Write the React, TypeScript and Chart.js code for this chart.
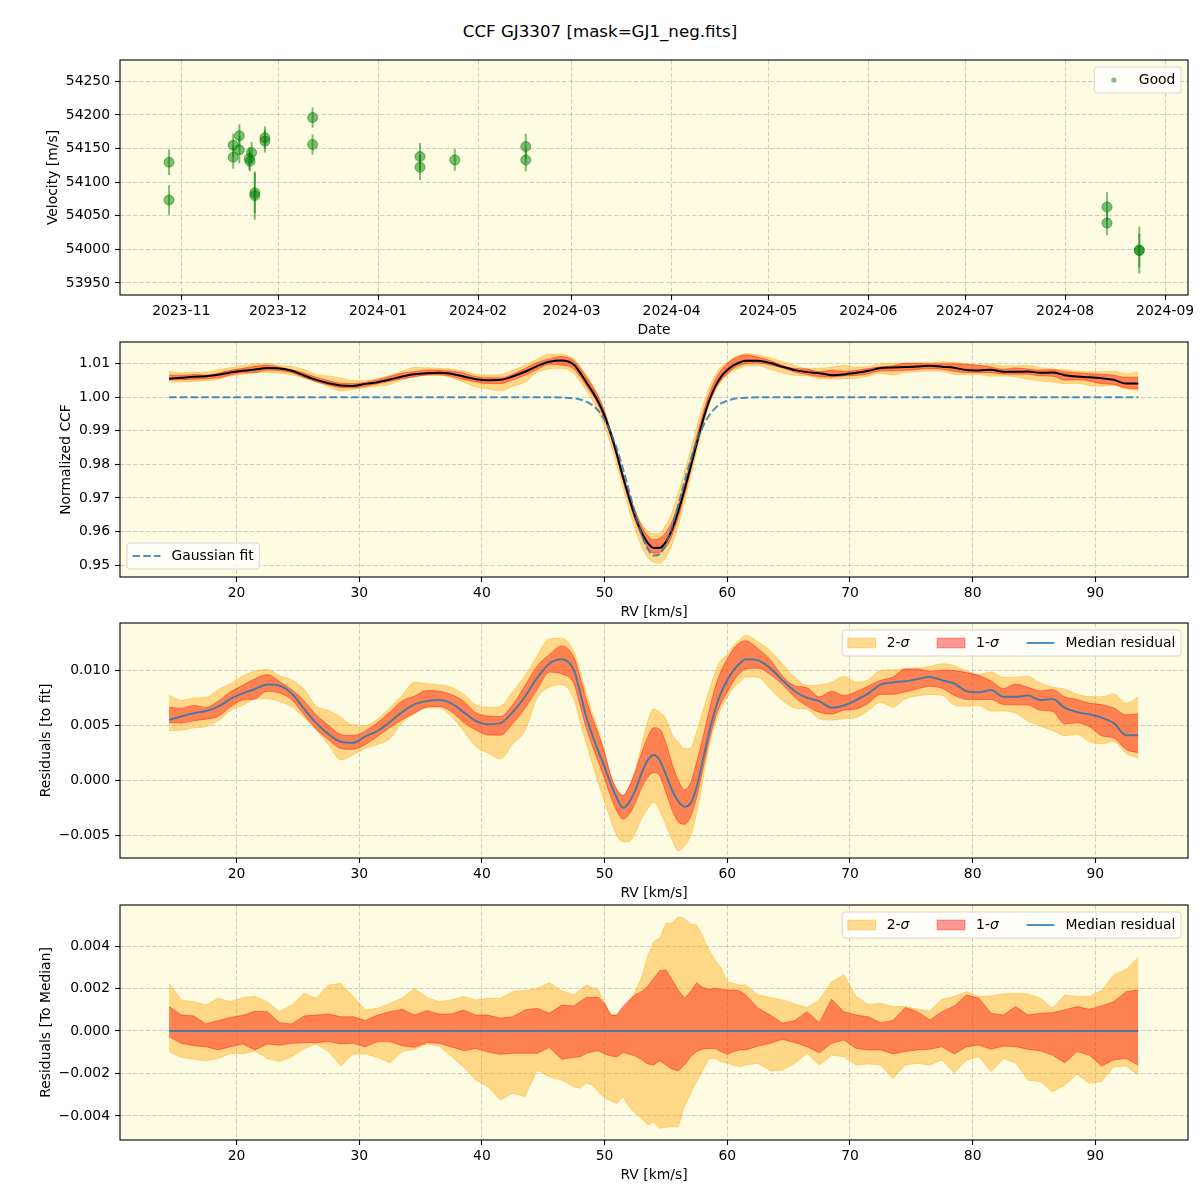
import React, { useEffect, useRef } from 'react';
import { Chart, registerables } from 'chart.js';

Chart.register(...registerables);

const FONT_FAMILY = "'DejaVu Sans', 'Liberation Sans', sans-serif";
const FS = 13.9;
const AX_BG = 'rgb(253,251,226)';
const GRID_COLOR = 'rgba(176,176,176,0.6)';
const C2 = 'rgba(255,165,0,0.4)';
const C1 = 'rgba(255,0,0,0.4)';
const BLUE = 'rgba(31,119,180,0.8)';
const GREEN = 'rgba(0,128,0,0.5)';

// ---------- Panel 1: RV time series ----------
const OBS_DATES = [
  '2023-10-28T05:00', '2023-10-28T05:00',
  '2023-11-17T02:00', '2023-11-17T02:00',
  '2023-11-19T00:00', '2023-11-19T00:00',
  '2023-11-22T02:00', '2023-11-22T07:00', '2023-11-22T19:00',
  '2023-11-23T19:00', '2023-11-23T19:00',
  '2023-11-26T22:00', '2023-11-26T22:00',
  '2023-12-11T17:00', '2023-12-11T17:00',
  '2024-01-14T00:00', '2024-01-14T00:00',
  '2024-01-24T19:00',
  '2024-02-15T19:00', '2024-02-15T19:00',
  '2024-08-14T00:00', '2024-08-14T00:00',
  '2024-08-24T00:00', '2024-08-24T00:00',
];
const OBS_RV = [
  54129.5, 54073.4,
  54155, 54137,
  54169, 54148,
  54135, 54131, 54144,
  54084, 54080,
  54166, 54161,
  54196, 54156,
  54138, 54122,
  54133,
  54153, 54133,
  54063, 54039,
  53999, 53998,
];
const OBS_ERR = [
  19, 22,
  17, 17,
  17, 20,
  17, 15, 16,
  30, 36,
  17, 17,
  15, 15,
  20, 19,
  16,
  19, 17,
  22, 18,
  35, 25,
];
const DATE_TICK_LABELS = ['2023-11', '2023-12', '2024-01', '2024-02', '2024-03', '2024-04', '2024-05', '2024-06', '2024-07', '2024-08', '2024-09'];
const VEL_TICKS = [53950, 54000, 54050, 54100, 54150, 54200, 54250];

// ---------- CCF panels ----------
const RV_GRID = [
  14.5, 15.5, 16.5, 17.5, 18.5, 19.5, 20.5, 21.5, 22.5, 23.5, 24.5, 25.5, 26.5, 27.5, 28.5, 29.5, 30.5,
  31.5, 32.5, 33.5, 34.5, 35.5, 36.5, 37.5, 38.5, 39.5, 40.5, 41.5, 42.5, 43.5, 44.5, 45.5, 46.5, 47.5,
  48, 48.5, 49, 49.5, 50, 50.5, 51, 51.5, 52, 52.5, 53, 53.5, 54, 54.5, 55, 55.5, 56, 56.5, 57, 57.5,
  58, 58.5, 59, 59.5, 60, 60.5, 61,
  61.5, 62.5, 63.5, 64.5, 65.5, 66.5, 67.5, 68.5, 69.5, 70.5, 71.5, 72.5, 73.5, 74.5, 75.5, 76.5, 77.5,
  78.5, 79.5, 80.5, 81.5, 82.5, 83.5, 84.5, 85.5, 86.5, 87.5, 88.5, 89.5, 90.5, 91.5, 92.5, 93.5,
];

const GAUSS_FIT = [
  1, 1, 1, 1, 1, 1, 1, 1, 1, 1, 1, 1, 1, 1, 1, 1, 1,
  1, 1, 1, 1, 1, 1, 1, 1, 1, 1, 1, 1, 1, 1, 1, 0.99994, 0.99969,
  0.99935, 0.99873, 0.99766, 0.99593, 0.99329, 0.98955, 0.98464, 0.97866, 0.97199, 0.96526, 0.95929, 0.95491,
  0.95282, 0.95335, 0.95642, 0.96153, 0.96791, 0.97471, 0.98117, 0.98675, 0.99119, 0.99447, 0.99671, 0.99816,
  0.99902, 0.99951, 0.99977,
  0.9999, 1, 1, 1, 1, 1, 1, 1, 1, 1, 1, 1, 1, 1, 1, 1, 1,
  1, 1, 1, 1, 1, 1, 1, 1, 1, 1, 1, 1, 1, 1, 1, 1,
];

const RES_MEDIAN = [
  0.0055, 0.0058, 0.0061, 0.0063, 0.0067, 0.0074, 0.0079, 0.0083, 0.0087, 0.0086, 0.0079, 0.0065, 0.0052,
  0.0042, 0.0035, 0.0034, 0.0040, 0.0045, 0.0053, 0.0062, 0.0069, 0.0072, 0.0073, 0.0070, 0.0062, 0.0054,
  0.0051, 0.0052, 0.0062, 0.0076, 0.0093, 0.0106, 0.0110, 0.0100,
  0.0080, 0.0058, 0.0041, 0.0026, 0.0012, -0.0003, -0.0016, -0.0025, -0.0020, -0.0009, 0.0006, 0.0018,
  0.0023, 0.0018, 0.0005, -0.0009, -0.0019, -0.0024, -0.0021, -0.0006, 0.0018, 0.0043, 0.0064, 0.0080,
  0.0091, 0.0100, 0.0106,
  0.0110, 0.0109, 0.0102, 0.0091, 0.0081, 0.0075, 0.0072, 0.0066, 0.0068, 0.0073, 0.0079, 0.0087, 0.0089,
  0.0090, 0.0092, 0.0094, 0.0091, 0.0088, 0.0081, 0.0080, 0.0082, 0.0076, 0.0076, 0.0077, 0.0073, 0.0074,
  0.0066, 0.0062, 0.0060, 0.0057, 0.0052, 0.0041, 0.0041,
];

// deviations from the median residual, in units of 1e-3
const DEV_UNIT = 1e-3;
const DEV_2SIG_HI = [
  2.24, 1.46, 1.38, 1.22, 1.54, 1.38, 1.57, 1.62, 1.38, 0.91, 1.22, 1.77, 1.54, 2.16, 2.24, 1.62, 0.99,
  1.07, 1.30, 1.54, 2.01, 1.58, 1.38, 1.46, 1.62, 1.46, 1.54, 1.54, 1.85, 1.90, 2.01, 2.27, 1.90, 1.69,
  1.93, 2.16, 2.05, 1.93, 1.30, 0.75, 0.75, 1.07, 1.38, 1.85, 2.48, 3.50, 4.20, 4.36, 5.07, 5.07, 5.38,
  5.30, 5.04, 4.99, 4.44, 3.81, 3.34, 2.95, 2.32, 2.24, 2.16,
  2.16, 1.69, 1.58, 1.46, 1.27, 1.11, 1.46, 2.32, 2.64, 1.62, 1.25, 1.30, 1.15, 1.15, 1.02, 0.94, 1.49,
  1.62, 1.85, 1.62, 1.65, 1.74, 1.77, 1.74, 1.54, 1.07, 1.69, 1.62, 1.62, 1.90, 2.64, 2.90, 3.47,
];
const DEV_2SIG_LO = [
  -0.97, -1.24, -1.33, -1.40, -1.29, -1.05, -1.08, -0.93, -1.29, -1.44, -1.21, -0.82, -0.61, -0.97, -1.65,
  -1.08, -1.08, -1.24, -1.49, -0.97, -0.86, -0.61, -0.71, -1.18, -1.68, -2.31, -2.62, -3.25, -2.93, -3.09,
  -1.84, -2.15, -2.31, -2.62,
  -2.70, -2.43, -2.54, -2.86, -3.17, -3.28, -3.40, -3.09, -3.56, -3.87, -4.11, -4.42, -4.30, -4.58, -4.53,
  -4.50, -4.50, -3.56, -2.95, -2.38, -1.85, -1.29, -1.29, -1.44, -1.52, -1.60, -1.68,
  -1.60, -1.52, -1.87, -1.84, -1.52, -1.05, -1.60, -1.13, -1.21, -1.60, -1.55, -1.60, -2.23, -1.60, -1.52,
  -1.60, -1.36, -1.96, -1.36, -1.21, -1.91, -1.29, -1.49, -2.31, -2.38, -2.86, -2.54, -2.02, -2.46, -2.38,
  -1.68, -1.65, -2.07,
];
const DEV_1SIG_HI = [
  1.15, 0.75, 0.71, 0.33, 0.49, 0.64, 0.74, 0.93, 0.91, 0.39, 0.33, 0.71, 0.75, 0.80, 0.67, 0.67, 0.49,
  0.75, 0.91, 1.02, 0.75, 0.96, 0.80, 0.80, 0.99, 0.75, 0.75, 0.60, 0.67, 0.99, 1.07, 0.83, 1.22, 1.18,
  1.38, 1.58, 1.58, 1.58, 1.30, 0.75, 0.75, 1.15, 1.46, 1.69, 1.85, 2.09, 2.48, 2.84, 2.87, 2.40, 1.93,
  1.54, 1.85, 2.27, 2.05, 1.96, 2.01, 1.96, 1.93, 1.93, 1.90,
  1.69, 1.07, 0.75, 0.36, 0.49, 0.91, 0.39, 1.49, 0.91, 0.75, 0.67, 0.39, 0.49, 1.11, 0.91, 0.52, 0.91,
  1.18, 1.69, 1.54, 0.83, 0.75, 1.15, 0.75, 0.83, 0.86, 0.99, 1.15, 1.02, 1.18, 1.38, 1.85, 1.93,
];
const DEV_1SIG_LO = [
  -0.27, -0.58, -0.69, -0.74, -0.89, -0.74, -0.61, -0.89, -0.61, -0.67, -0.58, -0.55, -0.55, -0.50, -0.61,
  -0.58, -0.74, -0.50, -0.50, -0.69, -0.77, -0.55, -0.58, -0.74, -0.93, -0.82, -0.99, -1.10, -1.05, -1.05,
  -1.05, -0.77, -1.33, -1.24,
  -1.21, -1.05, -0.97, -0.93, -1.08, -1.18, -1.21, -1.02, -1.08, -1.18, -1.33, -1.55, -1.60, -1.40, -1.60,
  -1.80, -1.87, -1.60, -1.21, -0.97, -0.85, -0.82, -0.82, -0.97, -1.10, -0.97, -0.89,
  -0.89, -0.71, -0.58, -0.39, -0.55, -0.74, -1.02, -0.58, -0.42, -0.82, -0.89, -0.89, -1.08, -0.97, -0.89,
  -0.86, -0.74, -1.08, -0.74, -0.66, -0.86, -0.71, -0.74, -0.86, -0.93, -1.13, -1.49, -0.97, -1.13, -1.65,
  -1.36, -1.29, -1.60,
];

const RV_TICKS = [20, 30, 40, 50, 60, 70, 80, 90];
const RV_TICK_LABELS = ['20', '30', '40', '50', '60', '70', '80', '90'];
const CCF_TICKS = [0.95, 0.96, 0.97, 0.98, 0.99, 1.0, 1.01];
const CCF_TICK_LABELS = ['0.95', '0.96', '0.97', '0.98', '0.99', '1.00', '1.01'];
const RES_TICKS = [-0.005, 0, 0.005, 0.01];
const RES_TICK_LABELS = ['\u22120.005', '0.000', '0.005', '0.010'];
const MED_TICKS = [-0.004, -0.002, 0, 0.002, 0.004];
const MED_TICK_LABELS = ['\u22120.004', '\u22120.002', '0.000', '0.002', '0.004'];

// ---------- helpers ----------
const DAY = 86400000;
const T0 = Date.UTC(2023, 10, 1);
const toDay = (s: string) => (Date.parse(s + ':00Z') - T0) / DAY;
const monthToDay = (s: string) => (Date.parse(s + '-01T00:00:00Z') - T0) / DAY;

type Part = { t: string; it?: boolean };
type LegItem = { kind: 'patch' | 'line' | 'dash' | 'dot'; fill?: string; stroke?: string; parts: Part[] };
type LegSpec = { corner: 'tr' | 'bl'; items: LegItem[] };

function setFont(ctx: CanvasRenderingContext2D, italic?: boolean) {
  ctx.font = `${italic ? 'italic ' : ''}${FS}px ${FONT_FAMILY}`;
}
function partsWidth(ctx: CanvasRenderingContext2D, parts: Part[]) {
  let w = 0;
  for (const p of parts) {
    setFont(ctx, p.it);
    w += ctx.measureText(p.t).width;
  }
  return w;
}

function makeMplPlugin(legend: LegSpec) {
  return {
    id: 'mplStyle',
    beforeDraw(chart: any) {
      const { ctx, chartArea } = chart;
      ctx.save();
      ctx.fillStyle = AX_BG;
      ctx.fillRect(chartArea.left, chartArea.top, chartArea.right - chartArea.left, chartArea.bottom - chartArea.top);
      ctx.restore();
    },
    afterDraw(chart: any) {
      const { ctx, chartArea: ca } = chart;
      ctx.save();
      ctx.strokeStyle = '#000';
      ctx.lineWidth = 1.1;
      ctx.setLineDash([]);
      ctx.strokeRect(ca.left, ca.top, ca.right - ca.left, ca.bottom - ca.top);

      // legend
      const pad = 0.4 * FS, handle = 2 * FS, htp = 0.8 * FS, colsp = 2 * FS;
      const ws = legend.items.map((it) => partsWidth(ctx, it.parts));
      const w = 2 * pad + ws.reduce((a, b) => a + b, 0) + legend.items.length * (handle + htp) + (legend.items.length - 1) * colsp;
      const h = 26;
      let bx: number, by: number;
      if (legend.corner === 'tr') {
        bx = ca.right - 7 - w;
        by = ca.top + 7;
      } else {
        bx = ca.left + 7;
        by = ca.bottom - 8 - h;
      }
      ctx.beginPath();
      if ((ctx as any).roundRect) (ctx as any).roundRect(bx, by, w, h, 3);
      else ctx.rect(bx, by, w, h);
      ctx.fillStyle = 'rgba(255,255,255,0.8)';
      ctx.fill();
      ctx.strokeStyle = 'rgba(204,204,204,0.8)';
      ctx.lineWidth = 1;
      ctx.stroke();
      let cx = bx + pad;
      const cy = by + h / 2;
      legend.items.forEach((it, i) => {
        if (it.kind === 'patch') {
          ctx.fillStyle = it.fill!;
          ctx.fillRect(cx, cy - 0.35 * FS, handle, 0.7 * FS);
          ctx.strokeStyle = it.stroke!;
          ctx.lineWidth = 1;
          ctx.strokeRect(cx, cy - 0.35 * FS, handle, 0.7 * FS);
        } else if (it.kind === 'line' || it.kind === 'dash') {
          ctx.beginPath();
          ctx.strokeStyle = it.stroke!;
          ctx.lineWidth = 2;
          ctx.setLineDash(it.kind === 'dash' ? [7.5, 3.2] : []);
          ctx.moveTo(cx, cy);
          ctx.lineTo(cx + handle, cy);
          ctx.stroke();
          ctx.setLineDash([]);
        } else if (it.kind === 'dot') {
          ctx.beginPath();
          ctx.fillStyle = it.fill!;
          ctx.arc(cx + handle / 2, cy, 2.6, 0, Math.PI * 2);
          ctx.fill();
        }
        let tx = cx + handle + htp;
        ctx.fillStyle = '#000';
        ctx.textBaseline = 'middle';
        ctx.textAlign = 'left';
        for (const p of it.parts) {
          setFont(ctx, p.it);
          ctx.fillText(p.t, tx, cy + 0.5);
          tx += ctx.measureText(p.t).width;
        }
        cx += handle + htp + ws[i] + colsp;
      });
      ctx.restore();
    },
  };
}

type AxisSpec = {
  min: number; max: number; ticks: number[]; labels: string[]; title: string;
};

function buildOptions(x: AxisSpec, y: AxisSpec, yTitleOffset: number, padTop: number) {
  const font = { family: FONT_FAMILY, size: FS };
  const grid = {
    color: GRID_COLOR,
    lineWidth: 1,
    drawTicks: true,
    tickLength: 5,
    tickColor: '#000',
    tickWidth: 1.1,
    tickBorderDash: [],
  };
  return {
    animation: false,
    responsive: false,
    maintainAspectRatio: false,
    devicePixelRatio: 1,
    events: [],
    layout: { autoPadding: false, padding: { top: padTop, right: 12, bottom: 0, left: 0 } },
    plugins: { legend: { display: false }, tooltip: { enabled: false }, title: { display: false } },
    elements: { point: { radius: 0 }, line: { tension: 0 } },
    scales: {
      x: {
        type: 'linear',
        min: x.min,
        max: x.max,
        afterBuildTicks: (s: any) => { s.ticks = x.ticks.map((v) => ({ value: v })); },
        afterFit: (s: any) => { s.height = 45; },
        ticks: {
          callback: (_v: any, i: number) => x.labels[i],
          autoSkip: false, maxRotation: 0, minRotation: 0, padding: 3, color: '#000', font,
        },
        grid,
        border: { display: false, dash: [4.5, 2] },
        title: { display: true, text: x.title, color: '#000', font, padding: { top: 0, bottom: 1.6 } },
      },
      y: {
        type: 'linear',
        min: y.min,
        max: y.max,
        afterBuildTicks: (s: any) => { s.ticks = y.ticks.map((v) => ({ value: v })); },
        afterFit: (s: any) => { s.width = 120; },
        ticks: {
          callback: (_v: any, i: number) => y.labels[i],
          autoSkip: false, padding: 5, color: '#000', font,
        },
        grid,
        border: { display: false, dash: [4.5, 2] },
        title: { display: true, text: y.title, color: '#000', font, padding: { top: yTitleOffset - 8.35, bottom: 0 } },
      },
    },
  };
}

const RV_AXIS = (): AxisSpec => ({ min: 10.5, max: 97.55, ticks: RV_TICKS, labels: RV_TICK_LABELS, title: 'RV [km/s]' });

function bandDatasets(base: (i: number) => number, smooth: boolean) {
  const mk = (f: (i: number) => number) => RV_GRID.map((x, i) => ({ x, y: f(i) }));
  const common = {
    pointRadius: 0,
    borderWidth: 1,
    cubicInterpolationMode: smooth ? 'monotone' : 'default',
    tension: 0,
  };
  return [
    { ...common, data: mk((i) => base(i) + DEV_2SIG_LO[i] * DEV_UNIT), borderColor: C2, fill: false, order: 3 },
    { ...common, data: mk((i) => base(i) + DEV_2SIG_HI[i] * DEV_UNIT), borderColor: C2, backgroundColor: C2, fill: '-1', order: 3 },
    { ...common, data: mk((i) => base(i) + DEV_1SIG_LO[i] * DEV_UNIT), borderColor: C1, fill: false, order: 2 },
    { ...common, data: mk((i) => base(i) + DEV_1SIG_HI[i] * DEV_UNIT), borderColor: C1, backgroundColor: C1, fill: '-1', order: 2 },
  ];
}

function configP1() {
  const days = OBS_DATES.map(toDay);
  const errBars = OBS_RV.map((v, i) => ({
    type: 'line',
    data: [{ x: days[i], y: v - OBS_ERR[i] }, { x: days[i], y: v + OBS_ERR[i] }],
    borderColor: GREEN,
    borderWidth: 2,
    pointRadius: 0,
    fill: false,
    order: 1,
  }));
  const points = {
    type: 'scatter',
    data: OBS_RV.map((v, i) => ({ x: days[i], y: v })),
    pointRadius: 5,
    backgroundColor: GREEN,
    borderColor: GREEN,
    borderWidth: 1,
    order: 0,
  };
  const opts = buildOptions(
    { min: -19.0, max: 312.1, ticks: DATE_TICK_LABELS.map(monthToDay), labels: DATE_TICK_LABELS, title: 'Date' },
    { min: 53932, max: 54281.7, ticks: VEL_TICKS, labels: VEL_TICKS.map(String), title: 'Velocity [m/s]' },
    53, 60,
  );
  return {
    type: 'scatter',
    data: { datasets: [...errBars, points] },
    options: opts,
    plugins: [makeMplPlugin({ corner: 'tr', items: [{ kind: 'dot', fill: GREEN, parts: [{ t: 'Good' }] }] })],
  };
}

const PAD_TOP = 14;

function configP2() {
  const base = (i: number) => GAUSS_FIT[i] + RES_MEDIAN[i];
  const datasets = [
    ...bandDatasets(base, true),
    {
      data: RV_GRID.map((x, i) => ({ x, y: base(i) })),
      borderColor: '#000', borderWidth: 2, pointRadius: 0, fill: false, cubicInterpolationMode: 'monotone', order: 1,
    },
    {
      data: RV_GRID.map((x, i) => ({ x, y: GAUSS_FIT[i] })),
      borderColor: BLUE, borderWidth: 2, borderDash: [7.5, 3.2], pointRadius: 0, fill: false, cubicInterpolationMode: 'monotone', order: 0,
    },
  ];
  return {
    type: 'line',
    data: { datasets },
    options: buildOptions(RV_AXIS(), { min: 0.94644, max: 1.01648, ticks: CCF_TICKS, labels: CCF_TICK_LABELS, title: 'Normalized CCF' }, 66, PAD_TOP),
    plugins: [makeMplPlugin({ corner: 'bl', items: [{ kind: 'dash', stroke: BLUE, parts: [{ t: 'Gaussian fit' }] }] })],
  };
}

const SIGMA_LEGEND: LegSpec = {
  corner: 'tr',
  items: [
    { kind: 'patch', fill: C2, stroke: C2, parts: [{ t: '2-' }, { t: '\u03c3', it: true }] },
    { kind: 'patch', fill: C1, stroke: C1, parts: [{ t: '1-' }, { t: '\u03c3', it: true }] },
    { kind: 'line', stroke: BLUE, parts: [{ t: 'Median residual' }] },
  ],
};

function configP3() {
  const base = (i: number) => RES_MEDIAN[i];
  const datasets = [
    ...bandDatasets(base, true),
    {
      data: RV_GRID.map((x, i) => ({ x, y: base(i) })),
      borderColor: BLUE, borderWidth: 2, pointRadius: 0, fill: false, cubicInterpolationMode: 'monotone', order: 0,
    },
  ];
  return {
    type: 'line',
    data: { datasets },
    options: buildOptions(RV_AXIS(), { min: -0.00706, max: 0.0143, ticks: RES_TICKS, labels: RES_TICK_LABELS, title: 'Residuals [to fit]' }, 46, PAD_TOP),
    plugins: [makeMplPlugin(SIGMA_LEGEND)],
  };
}

function configP4() {
  const base = (_i: number) => 0;
  const datasets = [
    ...bandDatasets(base, false),
    {
      data: RV_GRID.map((x) => ({ x, y: 0 })),
      borderColor: BLUE, borderWidth: 2, pointRadius: 0, fill: false, order: 0,
    },
  ];
  return {
    type: 'line',
    data: { datasets },
    options: buildOptions(RV_AXIS(), { min: -0.00513, max: 0.00593, ticks: MED_TICKS, labels: MED_TICK_LABELS, title: 'Residuals [To Median]' }, 46, PAD_TOP),
    plugins: [makeMplPlugin(SIGMA_LEGEND)],
  };
}

function ChartPanel({ top, height, config }: { top: number; height: number; config: () => any }) {
  const ref = useRef<HTMLCanvasElement | null>(null);
  useEffect(() => {
    if (!ref.current) return;
    const chart = new Chart(ref.current, config());
    return () => chart.destroy();
  }, []);
  return (
    <canvas
      ref={ref}
      width={1200}
      height={height}
      style={{ position: 'absolute', left: 0, top, width: 1200, height, display: 'block' }}
    />
  );
}

export default function App() {
  Chart.defaults.font.family = FONT_FAMILY;
  Chart.defaults.font.size = FS;
  Chart.defaults.color = '#000';
  const H = PAD_TOP + 235 + 45;
  return (
    <div style={{ position: 'absolute', left: 0, top: 0, width: 1200, height: 1200, background: '#fff', overflow: 'hidden' }}>
      <div
        style={{
          position: 'absolute', left: 0, top: 22, width: 1200, height: 20, lineHeight: '20px',
          textAlign: 'center', fontFamily: FONT_FAMILY, fontSize: 16.67, color: '#000',
        }}
      >
        CCF GJ3307 [mask=GJ1_neg.fits]
      </div>
      <ChartPanel top={0} height={340} config={configP1} />
      <ChartPanel top={342 - PAD_TOP} height={H} config={configP2} />
      <ChartPanel top={623 - PAD_TOP} height={H} config={configP3} />
      <ChartPanel top={905 - PAD_TOP} height={H} config={configP4} />
    </div>
  );
}
